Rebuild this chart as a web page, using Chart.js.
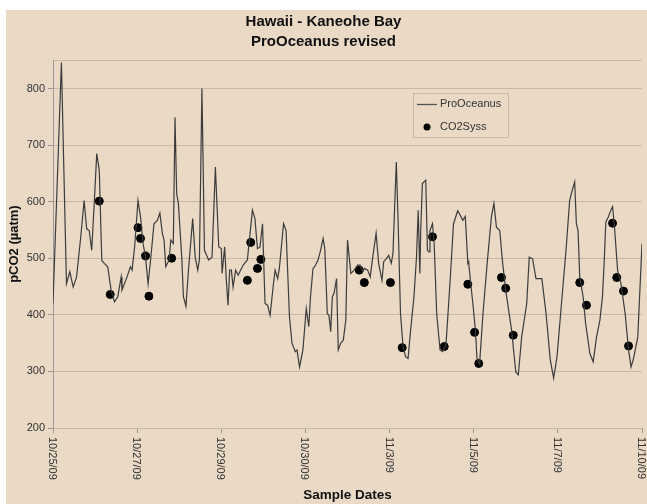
<!DOCTYPE html>
<html>
<head>
<meta charset="utf-8">
<script src="https://cdn.jsdelivr.net/npm/chart.js@4"></script>
<style>
  html, body { margin: 0; padding: 0; background: #fff; overflow: hidden; }
  #wrap { width: 647px; height: 504px; position: relative; }
</style>
</head>
<body>
<div id="wrap"><canvas id="chart" width="647" height="504"></canvas></div>
<script>
// ----------------------
// DATA (x = position along the sample axis, 1 unit = one date label)
// ----------------------
const tickLabels = ["10/25/09", "10/27/09", "10/29/09", "10/30/09", "11/3/09", "11/5/09", "11/7/09", "11/10/09"];

const proX = [0.00, 0.10, 0.16, 0.20, 0.24, 0.28, 0.33, 0.37, 0.40, 0.43, 0.46, 0.49, 0.52, 0.55, 0.58, 0.61, 0.65, 0.69, 0.73, 0.77,
  0.81, 0.82, 0.88, 0.92, 0.94, 0.97, 1.01, 1.04, 1.07, 1.10, 1.13, 1.16, 1.20, 1.24, 1.27, 1.30, 1.32, 1.34, 1.38, 1.40,
  1.43, 1.45, 1.47, 1.49, 1.53, 1.55, 1.58, 1.61, 1.66, 1.69, 1.72, 1.74, 1.77, 1.80, 1.85, 1.89, 1.93, 1.97, 2.00, 2.01,
  2.04, 2.06, 2.08, 2.10, 2.12, 2.14, 2.17, 2.20, 2.26, 2.31, 2.37, 2.40, 2.43, 2.46, 2.49, 2.52, 2.55, 2.58, 2.62, 2.64,
  2.67, 2.69, 2.74, 2.77, 2.81, 2.84, 2.88, 2.90, 2.93, 2.97, 3.01, 3.04, 3.06, 3.09, 3.11, 3.15, 3.18, 3.21, 3.23, 3.26,
  3.28, 3.30, 3.32, 3.34, 3.37, 3.39, 3.42, 3.45, 3.48, 3.50, 3.54, 3.58, 3.62, 3.65, 3.68, 3.70, 3.74, 3.77, 3.80, 3.84,
  3.87, 3.91, 3.93, 3.96, 3.99, 4.02, 4.04, 4.08, 4.10, 4.13, 4.16, 4.19, 4.22, 4.25, 4.29, 4.32, 4.34, 4.36, 4.37, 4.39,
  4.43, 4.45, 4.47, 4.48, 4.51, 4.53, 4.56, 4.60, 4.63, 4.67, 4.72, 4.76, 4.81, 4.84, 4.87, 4.90, 4.93, 4.94, 4.96, 4.99,
  5.02, 5.04, 5.07, 5.11, 5.16, 5.21, 5.24, 5.27, 5.31, 5.34, 5.38, 5.45, 5.50, 5.53, 5.57, 5.63, 5.66, 5.70, 5.74, 5.78,
  5.81, 5.86, 5.91, 5.95, 5.99, 6.05, 6.10, 6.14, 6.17, 6.20, 6.22, 6.24, 6.26, 6.30, 6.33, 6.38, 6.42, 6.46, 6.50, 6.53,
  6.55, 6.57, 6.60, 6.63, 6.65, 6.67, 6.71, 6.75, 6.80, 6.84, 6.87, 6.90, 6.95, 7.00];

const proY = [420, 846, 455, 476, 449, 467, 538, 602, 552, 549, 514, 597, 685, 655, 496, 491, 485, 444, 423, 432,
  467, 444, 467, 485, 479, 520, 602, 573, 526, 502, 455, 497, 561, 567, 580, 544, 532, 485, 497, 532,
  526, 749, 614, 597, 502, 432, 415, 479, 570, 502, 479, 497, 800, 514, 497, 502, 661, 520, 517, 473,
  520, 461, 417, 479, 479, 449, 479, 470, 488, 497, 585, 570, 517, 520, 561, 420, 417, 399, 455, 479,
  464, 482, 561, 549, 397, 350, 335, 338, 308, 338, 411, 379, 432, 482, 485, 497, 514, 535, 517, 402,
  399, 370, 432, 438, 464, 338, 350, 355, 391, 532, 473, 479, 488, 488, 476, 482, 479, 467, 502, 544,
  491, 461, 494, 499, 505, 491, 508, 670, 573, 402, 344, 326, 323, 373, 432, 502, 585, 473, 549, 632,
  638, 514, 511, 549, 561, 526, 402, 338, 335, 346, 461, 561, 584, 576, 567, 574, 491, 494, 461, 420,
  373, 320, 314, 402, 491, 573, 597, 555, 549, 497, 444, 373, 299, 294, 361, 420, 502, 499, 464, 464,
  464, 402, 320, 288, 326, 432, 520, 602, 620, 635, 561, 549, 467, 432, 385, 332, 317, 361, 391, 432,
  491, 564, 573, 585, 591, 561, 479, 455, 402, 338, 308, 323, 361, 526];

const co2X = [0.55, 0.68, 1.01, 1.04, 1.10, 1.14, 1.41, 2.31, 2.35, 2.43, 2.47, 3.64, 3.70, 4.01, 4.15,
  4.51, 4.65, 4.93, 5.01, 5.06, 5.33, 5.38, 5.47, 6.26, 6.34, 6.65, 6.70, 6.78, 6.84];
const co2Y = [601, 436, 554, 535, 504, 433, 500, 461, 528, 482, 498, 479, 457, 457, 342,
  538, 344, 454, 369, 314, 466, 447, 364, 457, 417, 562, 466, 442, 345];

const yTicks = [200, 300, 400, 500, 600, 700, 800];

const FONT = "'Liberation Sans', Arial, sans-serif";
const BEIGE = "#e9d9c5";
const GRID = "#c9b9a6";

// ----------------------
// PLUGINS: background, rotated date labels, legend box
// ----------------------
const bgPlugin = {
    id: "bg",
    beforeDraw(chart) {
        const ctx = chart.ctx;
        ctx.save();
        ctx.fillStyle = "#ffffff";
        ctx.fillRect(0, 0, chart.width, chart.height);
        ctx.fillStyle = BEIGE;
        ctx.fillRect(6, 10, chart.width - 6, chart.height - 10);
        ctx.restore();
    }
};

const dateLabels = {
    id: "dateLabels",
    afterDraw(chart) {
        const ctx = chart.ctx;
        const xs = chart.scales.x;
        ctx.save();
        ctx.font = "11px " + FONT;
        ctx.fillStyle = "#333";
        ctx.textAlign = "left";
        ctx.textBaseline = "middle";
        tickLabels.forEach((lab, i) => {
            const x = xs.getPixelForValue(i);
            ctx.save();
            ctx.translate(x - 1, chart.chartArea.bottom + 9);
            ctx.rotate(Math.PI / 2);
            ctx.fillText(lab, 0, 0);
            ctx.restore();
        });
        ctx.restore();
    }
};

const legendBox = {
    id: "legendBox",
    afterDraw(chart) {
        const ctx = chart.ctx;
        ctx.save();
        ctx.strokeStyle = GRID;
        ctx.lineWidth = 1;
        ctx.strokeRect(413.5, 93.5, 95, 44);
        ctx.strokeStyle = "#555";
        ctx.lineWidth = 1.3;
        ctx.beginPath();
        ctx.moveTo(417, 104.5);
        ctx.lineTo(437, 104.5);
        ctx.stroke();
        ctx.fillStyle = "#000";
        ctx.beginPath();
        ctx.arc(427, 127, 3.5, 0, Math.PI * 2);
        ctx.fill();
        ctx.font = "11px " + FONT;
        ctx.fillStyle = "#333";
        ctx.textAlign = "left";
        ctx.textBaseline = "middle";
        ctx.fillText("ProOceanus", 440, 104);
        ctx.fillText("CO2Syss", 440, 127);
        ctx.restore();
    }
};

// ----------------------
// CHART
// ----------------------
new Chart(document.getElementById("chart"), {
    type: "line",
    data: {
        datasets: [
            {
                label: "ProOceanus",
                data: proX.map((x, i) => ({ x: x, y: proY[i] })),
                borderColor: "#3c3c3c",
                borderWidth: 1.2,
                pointRadius: 0,
                tension: 0,
                fill: false
            },
            {
                label: "CO2Syss",
                type: "scatter",
                data: co2X.map((x, i) => ({ x: x, y: co2Y[i] })),
                backgroundColor: "#000",
                borderColor: "#000",
                pointRadius: 4,
                showLine: false
            }
        ]
    },
    options: {
        responsive: false,
        animation: false,
        layout: { padding: 0 },
        plugins: {
            legend: { display: false },
            tooltip: { enabled: false },
            title: {
                display: true,
                text: ["Hawaii - Kaneohe Bay", "ProOceanus revised"],
                color: "#111",
                font: { family: FONT, size: 15, weight: "bold", lineHeight: 1.34 },
                padding: { top: 12, bottom: 8 }
            }
        },
        scales: {
            x: {
                type: "linear",
                min: 0,
                max: tickLabels.length - 1,
                afterBuildTicks: (s) => { s.ticks = tickLabels.map((_, i) => ({ value: i })); },
                afterFit: (s) => { s.height = 76; },
                ticks: { display: false },
                grid: { drawOnChartArea: false, drawTicks: true, tickLength: 5, color: "#999" },
                border: { display: false },
                title: {
                    display: true,
                    text: "Sample Dates",
                    color: "#111",
                    font: { family: FONT, size: 13.5, weight: "bold" },
                    padding: { top: 0, bottom: 1 }
                }
            },
            y: {
                min: 200,
                max: 850,
                afterBuildTicks: (s) => { s.ticks = yTicks.concat([850]).map(v => ({ value: v })); },
                afterFit: (s) => { s.width = 53; },
                ticks: {
                    color: "#333",
                    font: { family: FONT, size: 11 },
                    padding: 3,
                    callback: (v) => (yTicks.includes(v) ? String(v) : "")
                },
                grid: { color: GRID, lineWidth: 1, tickLength: 5, tickColor: (c) => (c.tick.value === 850 ? "rgba(0,0,0,0)" : "#999") },
                border: { display: true, color: "#999" },
                title: {
                    display: true,
                    text: "pCO2 (µatm)",
                    color: "#111",
                    font: { family: FONT, size: 13, weight: "bold" },
                    padding: { top: 7, bottom: 0 }
                }
            }
        }
    },
    plugins: [bgPlugin, dateLabels, legendBox]
});
</script>
</body>
</html>
